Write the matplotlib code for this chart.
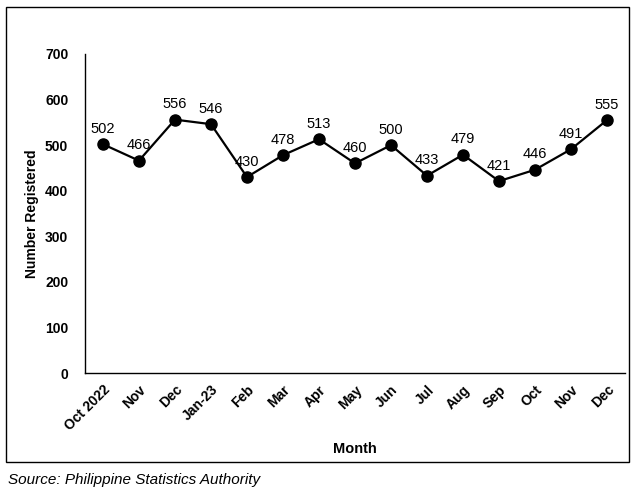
import matplotlib
matplotlib.use('Agg')
import matplotlib.pyplot as plt
from matplotlib.patches import Rectangle

# Monthly registrations
months = ['Oct 2022', 'Nov', 'Dec', 'Jan-23', 'Feb', 'Mar', 'Apr', 'May',
          'Jun', 'Jul', 'Aug', 'Sep', 'Oct', 'Nov', 'Dec']
registered = [502, 466, 556, 546, 430, 478, 513, 460, 500, 433, 479, 421, 446, 491, 555]
y_ticks = [0, 100, 200, 300, 400, 500, 600, 700]

plt.rcParams['font.family'] = ['Liberation Sans', 'DejaVu Sans']

fig = plt.figure(figsize=(6.36, 4.94), dpi=100)
ax = fig.add_axes([0.1336, 0.2449, 0.8491, 0.6458])

x = list(range(len(months)))
ax.plot(x, registered, color='black', linewidth=1.6, marker='o',
        markersize=8, zorder=3)

for xi, v in zip(x, registered):
    ax.annotate(str(v), (xi, v), xytext=(0, 6), textcoords='offset points',
                ha='center', va='bottom', fontsize=10.5)

ax.set_xlim(-0.5, len(months) - 0.5)
ax.set_ylim(0, 700)
ax.set_yticks(y_ticks)
ax.set_yticklabels([str(t) for t in y_ticks], fontweight='bold', fontsize=10)
ax.set_xticks(x)
ax.set_xticklabels(months, rotation=45, ha='right', rotation_mode='anchor',
                   fontweight='bold', fontsize=10)
ax.tick_params(axis='y', length=0, pad=12)
ax.tick_params(axis='x', length=0, pad=7)

for side in ['top', 'right']:
    ax.spines[side].set_visible(False)
for side in ['left', 'bottom']:
    ax.spines[side].set_linewidth(1.0)

ax.set_ylabel('Number Registered', fontweight='bold', fontsize=10, labelpad=4)
fig.text(0.558, 0.091, 'Month', ha='center', va='center',
         fontweight='bold', fontsize=10.5)

# Outer frame
fig.patches.append(Rectangle((6 / 636, 1 - 462 / 494), 623 / 636, 455 / 494,
                             transform=fig.transFigure, fill=False,
                             edgecolor='black', linewidth=1.0))

fig.text(8 / 636, 1 - 480 / 494, 'Source: Philippine Statistics Authority',
         ha='left', va='center', fontsize=11, style='italic')

fig.savefig('out.png', dpi=100)
